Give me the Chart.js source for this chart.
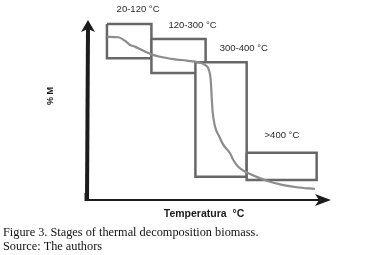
<!DOCTYPE html>
<html>
<head>
<meta charset="utf-8">
<script src="https://cdn.jsdelivr.net/npm/chart.js@4.4.0/dist/chart.umd.min.js"></script>
<style>
html,body{margin:0;padding:0;background:#fff;}
#c{display:block;}
</style>
</head>
<body>
<canvas id="c" width="376" height="255"></canvas>
<script>
// Stage boxes (schematic units: x = temperature axis 0..100, y = % mass 0..100)
const stageLabels = ['20-120 °C', '120-300 °C', '300-400 °C', '>400 °C'];
const stageXStart = [7.8, 26.1, 44.2, 65.3];
const stageXEnd   = [26.1, 48.4, 65.3, 94.1];
const stageYTop   = [97.8, 89.4, 76.5, 26.3];
const stageYBottom= [78.7, 70.6, 12.9, 11.1];

// Mass-loss curve
const curveX = [7.9, 12.5, 15.2, 17.3, 19.3, 22.8, 26.2, 29.6, 35.1, 40.6, 45.4, 48.2, 49.5, 50.5, 50.9, 51.3, 52.3, 53.9, 55.7, 58.4, 59.8, 61.7, 64.2, 66.7, 73.5, 80.4, 85.9, 93.4];
const curveY = [90.7, 90.4, 88.5, 86.1, 85.2, 82.9, 80.9, 79.6, 78.3, 77.4, 76.5, 75.0, 73.1, 66.7, 57.4, 48.9, 40.7, 35.6, 30.6, 26.1, 22.2, 18.6, 16.1, 14.4, 10.7, 8.3, 7.1, 6.1];

// Text
const yAxisTitle = '% M';
const xAxisTitle = 'Temperatura  °C';
const captionLines = ['Figure 3. Stages of thermal decomposition biomass.', 'Source: The authors'];

// label anchor (center x, middle y) in schematic units
const labelAnchorX = [20.6, 43.0, 64.1, 79.8];
const labelAnchorY = [106.1, 97.2, 84.3, 35.7];

const datasets = [];
datasets.push({
  label: 'curve',
  data: curveX.map((x, i) => ({x: x, y: curveY[i]})),
  borderColor: '#8c8c8c',
  borderWidth: 2.2,
  pointRadius: 0,
  showLine: true,
  fill: false,
  cubicInterpolationMode: 'monotone',
  order: 0
});
stageLabels.forEach((lab, i) => {
  const x0 = stageXStart[i], x1 = stageXEnd[i], y0 = stageYBottom[i], y1 = stageYTop[i];
  datasets.push({
    label: lab,
    data: [{x:x0,y:y1},{x:x1,y:y1},{x:x1,y:y0},{x:x0,y:y0},{x:x0,y:y1}],
    borderColor: '#676767',
    borderWidth: 2.5,
    backgroundColor: '#ffffff',
    pointRadius: 0,
    showLine: true,
    tension: 0,
    fill: 'shape',
    borderJoinStyle: 'miter',
    order: 10 - i
  });
});

const decor = {
  id: 'decor',
  afterDraw(chart) {
    const ctx = chart.ctx;
    const a = chart.chartArea;
    const xs = chart.scales.x, ys = chart.scales.y;
    ctx.save();
    // Y axis arrow
    ctx.fillStyle = '#1c1c1c';
    ctx.strokeStyle = '#1c1c1c';
    ctx.lineWidth = 4;
    ctx.beginPath();
    ctx.moveTo(a.left - 1, a.bottom);
    ctx.lineTo(a.left, a.top + 8);
    ctx.stroke();
    ctx.beginPath();
    ctx.moveTo(a.left, a.top);
    ctx.lineTo(a.left - 7, a.top + 12);
    ctx.lineTo(a.left, a.top + 9);
    ctx.lineTo(a.left + 7, a.top + 12);
    ctx.closePath();
    ctx.fill();
    // X axis arrow
    ctx.lineWidth = 2.2;
    ctx.beginPath();
    ctx.moveTo(a.left - 2, a.bottom);
    ctx.lineTo(a.right - 10, a.bottom);
    ctx.stroke();
    ctx.lineWidth = 3;
    ctx.beginPath();
    ctx.moveTo(a.left - 2, a.bottom + 1);
    ctx.lineTo(a.left - 2, a.bottom - 7);
    ctx.stroke();
    ctx.beginPath();
    ctx.moveTo(a.right, a.bottom);
    ctx.lineTo(a.right - 16, a.bottom - 6);
    ctx.lineTo(a.right - 12, a.bottom);
    ctx.lineTo(a.right - 16, a.bottom + 6);
    ctx.closePath();
    ctx.fill();

    // stage labels
    ctx.fillStyle = '#2a2a2a';
    ctx.font = '9.5px "Liberation Sans", Arial, sans-serif';
    ctx.textAlign = 'center';
    ctx.textBaseline = 'middle';
    stageLabels.forEach((lab, i) => {
      ctx.fillText(lab, xs.getPixelForValue(labelAnchorX[i]), ys.getPixelForValue(labelAnchorY[i]));
    });

    // x title
    ctx.font = 'bold 10.5px "Liberation Sans", Arial, sans-serif';
    ctx.fillStyle = '#1a1a1a';
    ctx.fillText(xAxisTitle, 204, 214);

    // y title (rotated)
    ctx.save();
    ctx.translate(51, 96);
    ctx.rotate(-Math.PI / 2);
    ctx.font = 'bold 9px "Liberation Sans", Arial, sans-serif';
    ctx.fillText(yAxisTitle, 0, 0);
    ctx.restore();

    // caption
    ctx.font = '12.3px "Liberation Serif", "Times New Roman", serif';
    ctx.textAlign = 'left';
    ctx.textBaseline = 'alphabetic';
    ctx.fillStyle = '#111';
    ctx.fillText(captionLines[0], 3, 236);
    ctx.fillText(captionLines[1], 3, 249.5);
    ctx.restore();
  }
};

new Chart(document.getElementById('c'), {
  type: 'scatter',
  data: { datasets: datasets },
  options: {
    responsive: false,
    devicePixelRatio: 1,
    animation: false,
    layout: { padding: { left: 88, right: 45, top: 20, bottom: 55 } },
    scales: {
      x: { type: 'linear', min: 0, max: 100, display: false },
      y: { type: 'linear', min: 0, max: 100, display: false }
    },
    plugins: { legend: { display: false }, tooltip: { enabled: false } }
  },
  plugins: [decor]
});
</script>
</body>
</html>
